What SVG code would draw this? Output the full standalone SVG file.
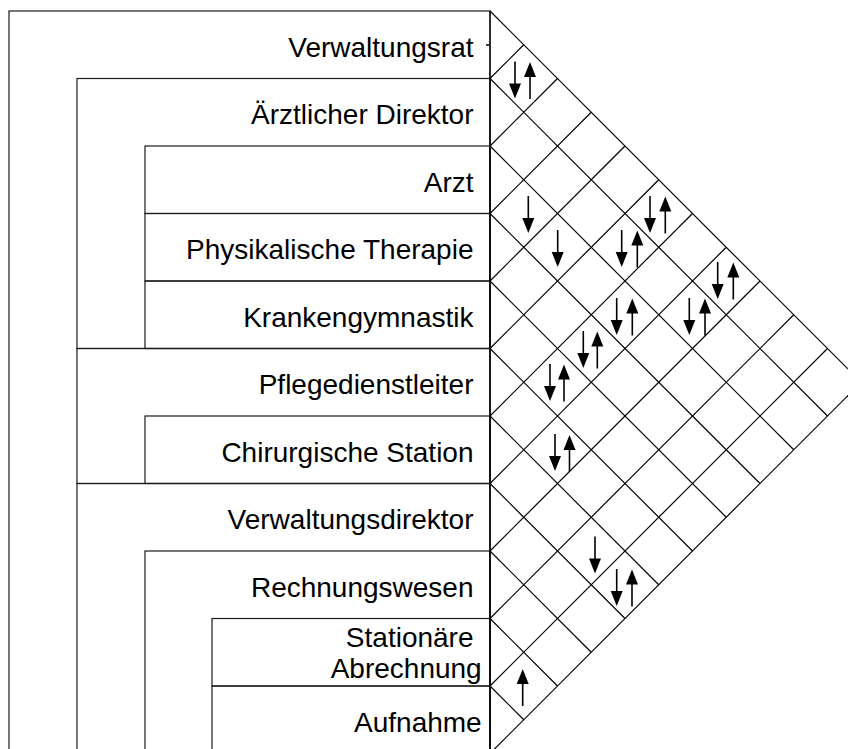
<svg xmlns="http://www.w3.org/2000/svg" xmlns:xlink="http://www.w3.org/1999/xlink" width="848" height="749" viewBox="0 0 848 749">
  <style>
    .box { fill: none; stroke: #1a1a1a; stroke-width: 1.2; }
    .lbl { font-family: "Liberation Sans", Arial, sans-serif; font-size: 28px; fill: #000; text-anchor: end; }
    .grid line { stroke: #000; stroke-width: 1.2; }
    .shaft { stroke: #000; stroke-width: 1.6; }
    .head { fill: #000; }
  </style>
  <defs>
    <!-- downward arrow, origin at top of shaft -->
    <g id="dn">
      <line class="shaft" x1="0" y1="0" x2="0" y2="24"/>
      <polygon class="head" points="-6,22 6,22 0,37"/>
    </g>
    <!-- upward arrow, origin at tip -->
    <g id="up">
      <polygon class="head" points="0,0 -6,15 6,15"/>
      <line class="shaft" x1="0" y1="13" x2="0" y2="37"/>
    </g>
  </defs>

  <rect width="848" height="749" fill="#fff"/>

  <!-- organisation hierarchy -->
  <g id="verwaltungsrat">
    <rect class="box" x="9" y="11" width="481" height="780"/>
    <text class="lbl" x="473.5" y="56.75">Verwaltungsrat</text>
    <line x1="486" y1="45" x2="489" y2="45" stroke="#000" stroke-width="1.5"/>
  </g>
  <g id="aerztlicher-direktor">
    <rect class="box" x="77" y="78.5" width="413" height="270"/>
    <text class="lbl" x="473.5" y="124.25">Ärztlicher Direktor</text>
  </g>
  <g id="arzt">
    <rect class="box" x="145" y="146" width="345" height="67.5"/>
    <text class="lbl" x="473.5" y="191.75">Arzt</text>
  </g>
  <g id="physikalische-therapie">
    <rect class="box" x="145" y="213.5" width="345" height="67.5"/>
    <text class="lbl" x="473.5" y="259.25">Physikalische Therapie</text>
  </g>
  <g id="krankengymnastik">
    <rect class="box" x="145" y="281" width="345" height="67.5"/>
    <text class="lbl" x="473.5" y="326.75">Krankengymnastik</text>
  </g>
  <g id="pflegedienstleiter">
    <rect class="box" x="77" y="348.5" width="413" height="135"/>
    <text class="lbl" x="473.5" y="394.25">Pflegedienstleiter</text>
  </g>
  <g id="chirurgische-station">
    <rect class="box" x="145" y="416" width="345" height="67.5"/>
    <text class="lbl" x="473.5" y="461.75">Chirurgische Station</text>
  </g>
  <g id="verwaltungsdirektor">
    <rect class="box" x="77" y="483.5" width="413" height="300"/>
    <text class="lbl" x="473.5" y="529.25">Verwaltungsdirektor</text>
  </g>
  <g id="rechnungswesen">
    <rect class="box" x="145" y="551" width="345" height="240"/>
    <text class="lbl" x="473.5" y="596.75">Rechnungswesen</text>
  </g>
  <g id="stationaere-abrechnung">
    <rect class="box" x="212" y="618.5" width="278" height="67.5"/>
    <text class="lbl" x="473.5" y="646.7">Stationäre</text>
    <text class="lbl" x="481.7" y="677.5">Abrechnung</text>
  </g>
  <g id="aufnahme">
    <rect class="box" x="212" y="686" width="278" height="100"/>
    <text class="lbl" x="481.7" y="731.75">Aufnahme</text>
  </g>

  <!-- triangular relation matrix -->
  <g id="connectors">
    <g class="grid">
      <line x1="490" y1="11" x2="490" y2="760"/>
      <!-- descending diagonals -->
      <line x1="490" y1="11" x2="861.25" y2="382.25"/>
      <line x1="490" y1="78.5" x2="827.5" y2="416"/>
      <line x1="490" y1="146" x2="793.75" y2="449.75"/>
      <line x1="490" y1="213.5" x2="760" y2="483.5"/>
      <line x1="490" y1="281" x2="726.25" y2="517.25"/>
      <line x1="490" y1="348.5" x2="692.5" y2="551"/>
      <line x1="490" y1="416" x2="658.75" y2="584.75"/>
      <line x1="490" y1="483.5" x2="625" y2="618.5"/>
      <line x1="490" y1="551" x2="591.25" y2="652.25"/>
      <line x1="490" y1="618.5" x2="557.5" y2="686"/>
      <line x1="490" y1="686" x2="523.75" y2="719.75"/>
      <!-- ascending diagonals -->
      <line x1="490" y1="78.5" x2="523.75" y2="44.75"/>
      <line x1="490" y1="146" x2="557.5" y2="78.5"/>
      <line x1="490" y1="213.5" x2="591.25" y2="112.25"/>
      <line x1="490" y1="281" x2="625" y2="146"/>
      <line x1="490" y1="348.5" x2="658.75" y2="179.75"/>
      <line x1="490" y1="416" x2="692.5" y2="213.5"/>
      <line x1="490" y1="483.5" x2="726.25" y2="247.25"/>
      <line x1="490" y1="551" x2="760" y2="281"/>
      <line x1="490" y1="618.5" x2="793.75" y2="314.75"/>
      <line x1="490" y1="686" x2="827.5" y2="348.5"/>
      <line x1="490" y1="753.5" x2="861.25" y2="382.25"/>
    </g>

    <!-- relation marks -->
    <g id="rel-0-1"><use xlink:href="#dn" x="515" y="61.5"/><use xlink:href="#up" x="530" y="62"/></g>
    <g id="rel-2-3"><use xlink:href="#dn" x="528.3" y="196"/></g>
    <g id="rel-2-4"><use xlink:href="#dn" x="557.7" y="230"/></g>
    <g id="rel-0-5"><use xlink:href="#dn" x="650" y="196"/><use xlink:href="#up" x="665.3" y="196.5"/></g>
    <g id="rel-1-5"><use xlink:href="#dn" x="621.7" y="230"/><use xlink:href="#up" x="637.3" y="230.5"/></g>
    <g id="rel-0-7"><use xlink:href="#dn" x="717.7" y="262"/><use xlink:href="#up" x="733.3" y="262.5"/></g>
    <g id="rel-2-6"><use xlink:href="#dn" x="616.7" y="298"/><use xlink:href="#up" x="632.3" y="298.5"/></g>
    <g id="rel-1-7"><use xlink:href="#dn" x="689.3" y="298"/><use xlink:href="#up" x="705" y="298.5"/></g>
    <g id="rel-3-6"><use xlink:href="#dn" x="583.3" y="331"/><use xlink:href="#up" x="597.3" y="331.5"/></g>
    <g id="rel-4-6"><use xlink:href="#dn" x="550" y="364"/><use xlink:href="#up" x="564" y="364.5"/></g>
    <g id="rel-5-7"><use xlink:href="#dn" x="555" y="434"/><use xlink:href="#up" x="569.5" y="435"/></g>
    <g id="rel-6-9"><use xlink:href="#dn" x="595" y="536.5"/></g>
    <g id="rel-6-10"><use xlink:href="#dn" x="616.7" y="569"/><use xlink:href="#up" x="632" y="569.5"/></g>
    <g id="rel-9-10"><use xlink:href="#up" x="522.7" y="669"/></g>
  </g>
</svg>
